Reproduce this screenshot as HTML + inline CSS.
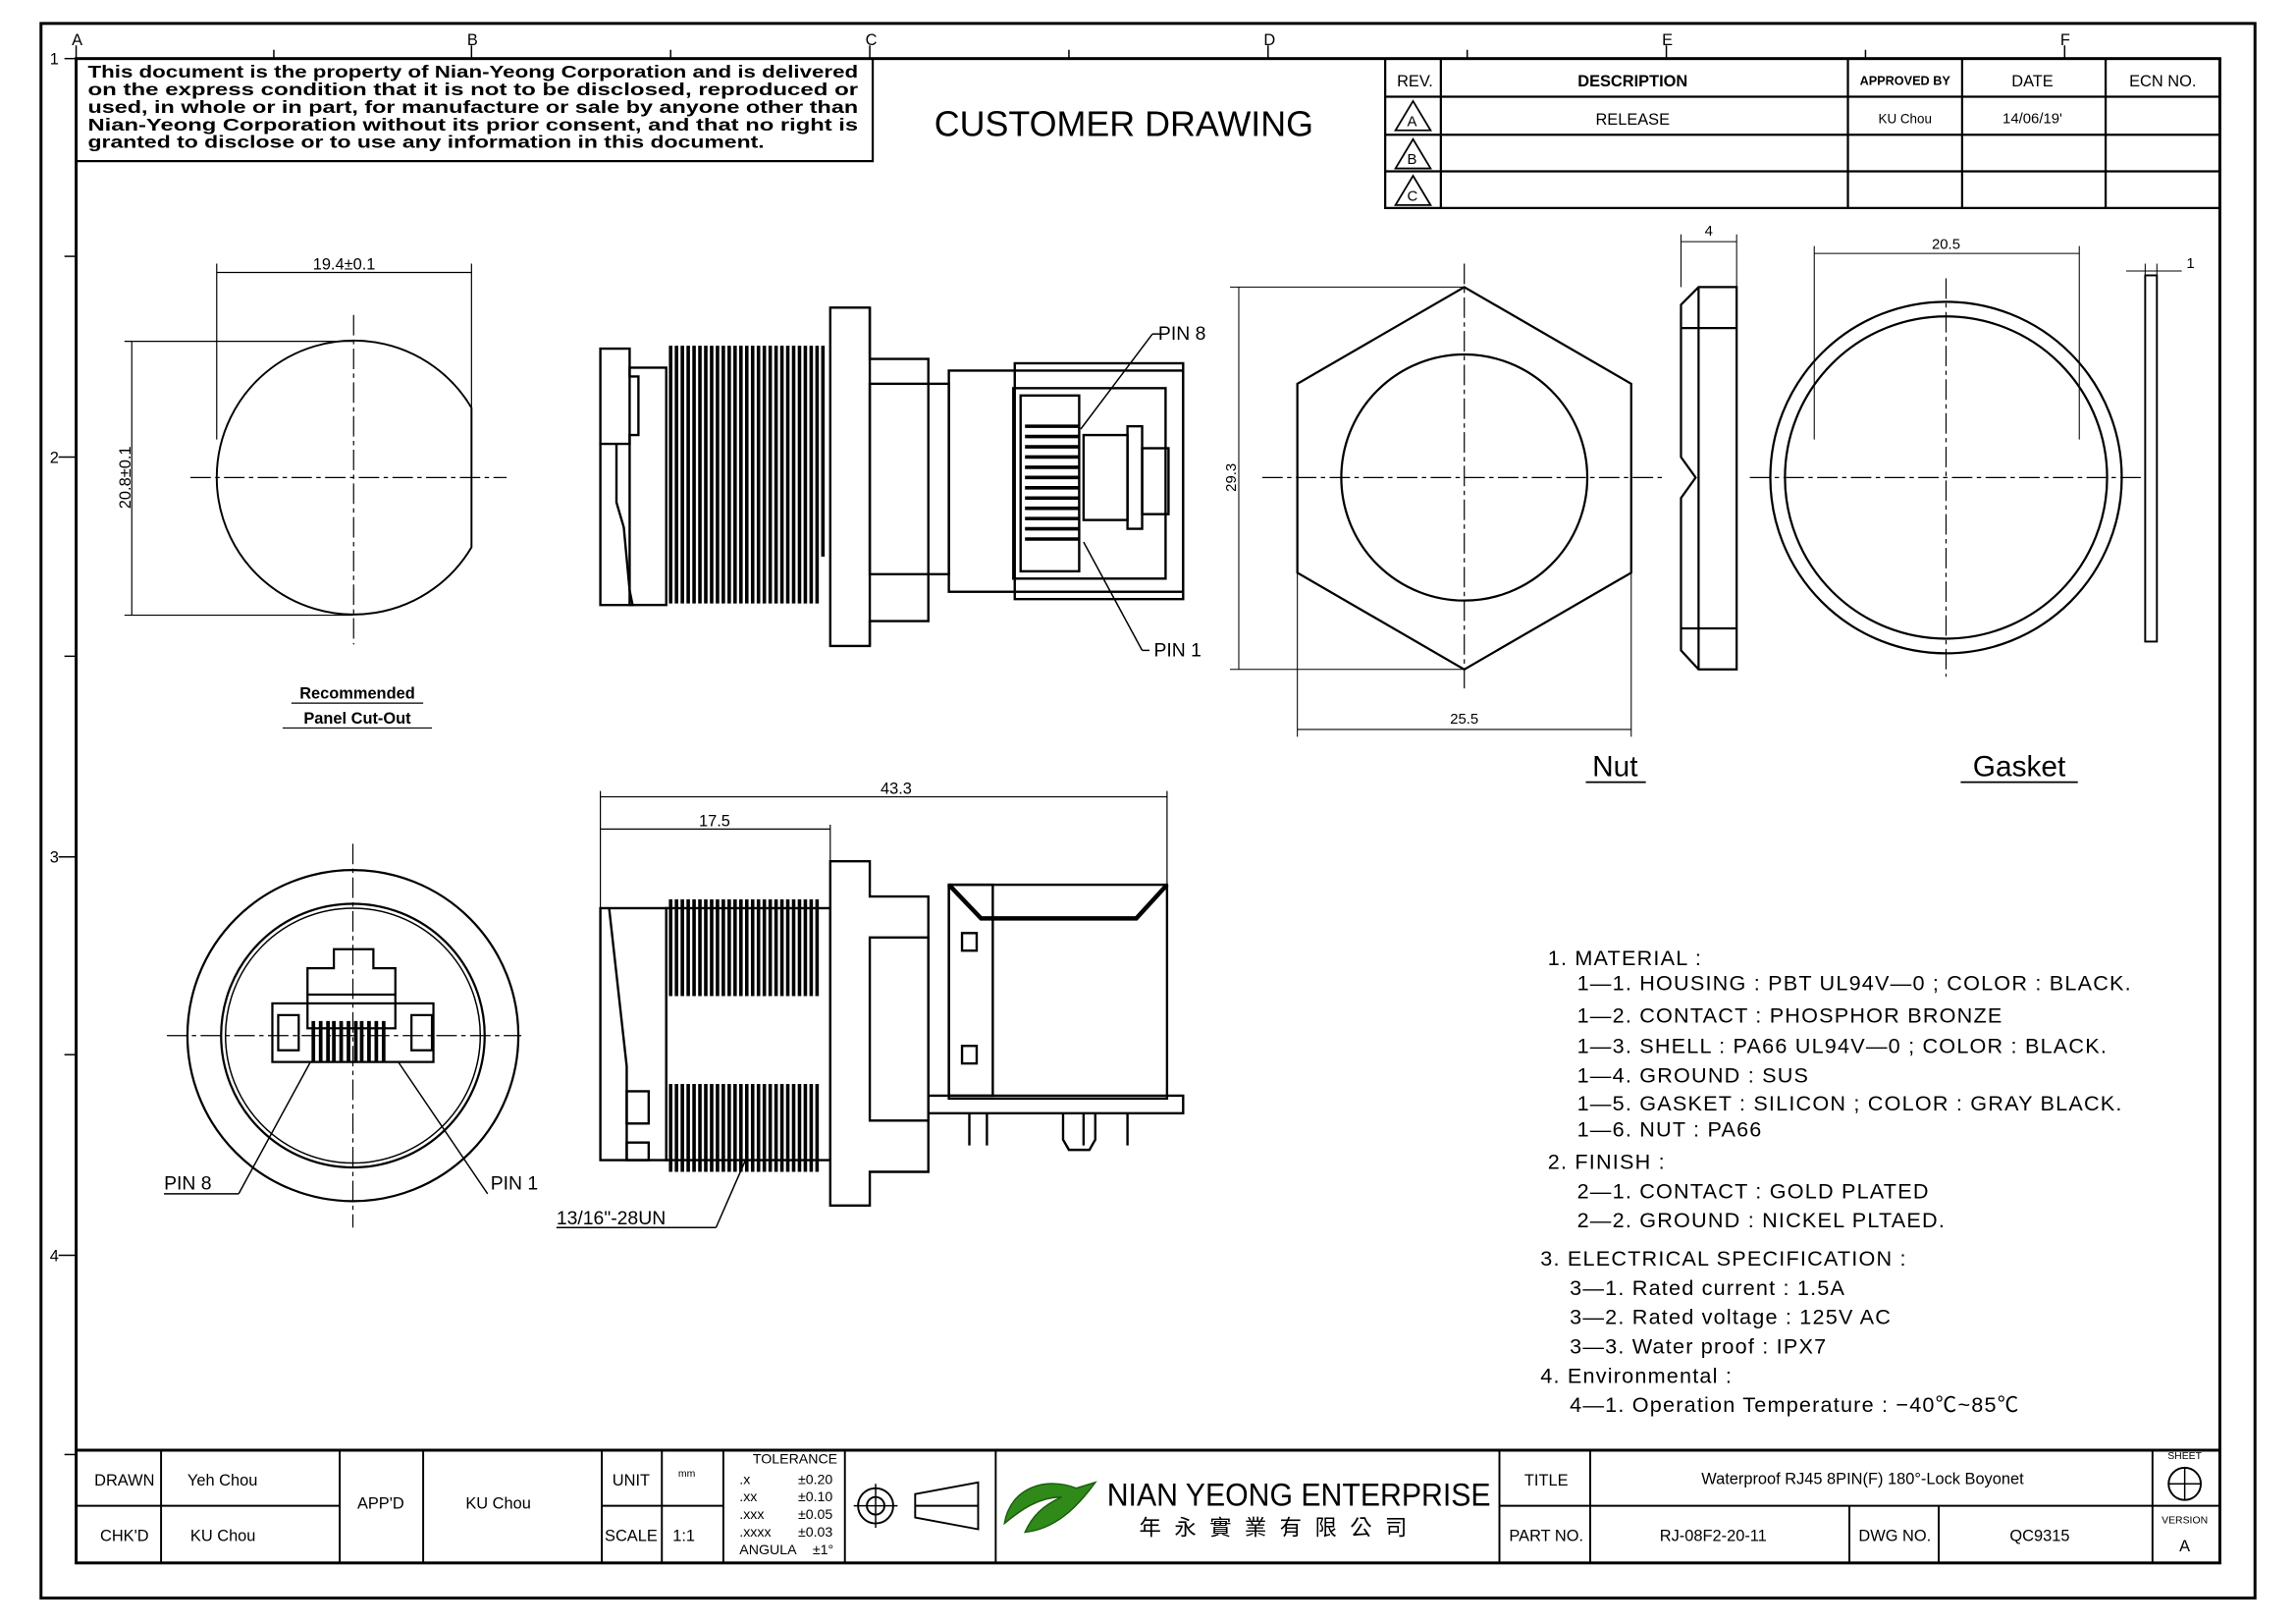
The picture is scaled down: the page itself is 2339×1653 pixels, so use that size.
<!DOCTYPE html>
<html><head><meta charset="utf-8"><style>
html,body{margin:0;padding:0;background:#fff;}
svg{display:block;}
text{font-family:"Liberation Sans","Noto Sans CJK TC",sans-serif;fill:#000;}
.n{font-family:"Liberation Sans Narrow","Liberation Sans",sans-serif;}
</style></head><body>
<svg width="2339" height="1653" viewBox="0 0 1568 1108" preserveAspectRatio="none" xmlns="http://www.w3.org/2000/svg" fill="none" stroke="#000" stroke-width="1.2">
<rect x="28" y="16" width="1512" height="1075" stroke-width="2"/>
<rect x="52" y="40" width="1464" height="1027" stroke-width="2"/>
<g stroke-width="1">
<line x1="52" y1="31" x2="52" y2="40"/><line x1="187" y1="34" x2="187" y2="40"/><line x1="322" y1="31" x2="322" y2="40"/><line x1="458" y1="34" x2="458" y2="40"/><line x1="594" y1="31" x2="594" y2="40"/><line x1="730" y1="34" x2="730" y2="40"/><line x1="866" y1="31" x2="866" y2="40"/><line x1="1002" y1="34" x2="1002" y2="40"/><line x1="1138" y1="31" x2="1138" y2="40"/><line x1="1274" y1="34" x2="1274" y2="40"/><line x1="1410" y1="31" x2="1410" y2="40"/>
<line x1="44" y1="40" x2="52" y2="40"/><line x1="44" y1="175" x2="52" y2="175"/><line x1="40" y1="312" x2="52" y2="312"/><line x1="44" y1="448" x2="52" y2="448"/><line x1="40" y1="585" x2="52" y2="585"/><line x1="44" y1="720" x2="52" y2="720"/><line x1="40" y1="857" x2="52" y2="857"/><line x1="44" y1="993" x2="52" y2="993"/>
</g>
<g stroke="none" font-size="11" class="n">
<text x="49" y="31">A</text><text x="319" y="31">B</text><text x="591" y="31">C</text><text x="863" y="31">D</text><text x="1135" y="31">E</text><text x="1407" y="31">F</text>
<text x="34" y="44">1</text><text x="34" y="316">2</text><text x="34" y="589">3</text><text x="34" y="861">4</text>
</g>
<rect x="52" y="40" width="544" height="70" stroke-width="1.5"/>
<g stroke="none" font-size="11.5" font-weight="bold" class="n">
<text x="60" y="53" textLength="526" lengthAdjust="spacingAndGlyphs">This document is the property of Nian-Yeong Corporation and is delivered</text>
<text x="60" y="65" textLength="526" lengthAdjust="spacingAndGlyphs">on  the  express condition that it is not to be disclosed, reproduced or</text>
<text x="60" y="77" textLength="526" lengthAdjust="spacingAndGlyphs">used, in whole or in part, for manufacture or sale by anyone other than</text>
<text x="60" y="89" textLength="526" lengthAdjust="spacingAndGlyphs">Nian-Yeong Corporation without  its prior consent, and that  no right  is</text>
<text x="60" y="101" textLength="462" lengthAdjust="spacingAndGlyphs">granted to disclose or to use any information in this  document.</text>
</g>
<text x="638" y="93" font-size="24" stroke="none" textLength="259" lengthAdjust="spacingAndGlyphs">CUSTOMER  DRAWING</text>
<g stroke-width="1.5">
<rect x="946" y="40" width="570" height="102"/>
<line x1="946" y1="66" x2="1516" y2="66"/><line x1="946" y1="92" x2="1516" y2="92"/><line x1="946" y1="117" x2="1516" y2="117"/>
<line x1="984" y1="40" x2="984" y2="142"/><line x1="1262" y1="40" x2="1262" y2="142"/><line x1="1340" y1="40" x2="1340" y2="142"/><line x1="1438" y1="40" x2="1438" y2="142"/>
</g>
<polygon points="965,69 953,89 977,89"/><polygon points="965,95 953,115 977,115"/><polygon points="965,120 953,140 977,140"/>
<g stroke="none" font-size="11" class="n">
<text x="954" y="59">REV.</text><text x="1115" y="59" text-anchor="middle" font-weight="bold">DESCRIPTION</text>
<text x="1301" y="58" text-anchor="middle" font-size="8.5" font-weight="bold">APPROVED BY</text>
<text x="1388" y="59" text-anchor="middle">DATE</text><text x="1477" y="59" text-anchor="middle">ECN NO.</text>
<text x="961" y="86" font-size="10">A</text><text x="961" y="112" font-size="10">B</text><text x="961" y="137" font-size="10">C</text>
<text x="1115" y="85" text-anchor="middle">RELEASE</text><text x="1301" y="84" text-anchor="middle" font-size="9">KU Chou</text><text x="1388" y="84" text-anchor="middle" font-size="10">14/06/19'</text>
</g>
<path d="M322,278.4 A93.5,93.5 0 1 0 322,373.6 Z" stroke-width="1.3"/>
<g stroke-width="0.8" stroke-dasharray="14,3,3,3">
<line x1="241.5" y1="215" x2="241.5" y2="440"/><line x1="130" y1="326" x2="346" y2="326"/></g>
<g stroke-width="0.8">
<line x1="148" y1="180" x2="148" y2="300"/><line x1="322" y1="180" x2="322" y2="278"/><line x1="148" y1="186" x2="322" y2="186"/>
<line x1="85" y1="233" x2="241" y2="233"/><line x1="85" y1="420" x2="241" y2="420"/><line x1="90" y1="233" x2="90" y2="420"/>
</g>
<g stroke="none" font-size="11" class="n">
<text x="235" y="184" text-anchor="middle">19.4±0.1</text>
<text transform="translate(89,326) rotate(-90)" text-anchor="middle">20.8±0.1</text>
<text x="244" y="477" text-anchor="middle" font-weight="bold">Recommended</text>
<text x="244" y="494" text-anchor="middle" font-weight="bold">Panel Cut-Out</text>
</g>
<line x1="199" y1="480" x2="289" y2="480" stroke-width="0.8"/><line x1="193" y1="497" x2="295" y2="497" stroke-width="0.8"/>
<g stroke-width="1.6">
<path d="M410,238 H430 V257 H436 V297 H430 V303 H410 Z"/>
<path d="M410,303 V413 H432 L430,403 L426,360 L421,343 V303"/>
<rect x="430" y="251" width="25" height="162"/>
<rect x="567" y="210" width="27" height="231"/>
<path d="M594,210 V245 H634 V424 H594 V441"/>
<rect x="594" y="262" width="54" height="130"/>
<rect x="648" y="253" width="160" height="151"/>
<rect x="693" y="248" width="115" height="161"/>
<rect x="692" y="265" width="104" height="130"/>
<rect x="697" y="270" width="40" height="120"/>
<rect x="740" y="297" width="30" height="58"/>
<rect x="770" y="291" width="10" height="70"/>
<rect x="780" y="306" width="18" height="45"/>
</g>
<g stroke-width="2.4">
<line x1="700" y1="291" x2="737" y2="291"/><line x1="700" y1="298" x2="737" y2="298"/><line x1="700" y1="305" x2="737" y2="305"/><line x1="700" y1="312" x2="737" y2="312"/><line x1="700" y1="319" x2="737" y2="319"/><line x1="700" y1="326" x2="737" y2="326"/><line x1="700" y1="333" x2="737" y2="333"/><line x1="700" y1="340" x2="737" y2="340"/><line x1="700" y1="347" x2="737" y2="347"/><line x1="700" y1="354" x2="737" y2="354"/><line x1="700" y1="361" x2="737" y2="361"/><line x1="700" y1="368" x2="737" y2="368"/>
</g>
<path stroke-width="2.4" d="M458,236V412M462,236V412M466,236V412M470,236V412M474,236V412M478,236V412M482,236V412M486,236V412M490,236V412M494,236V412M498,236V412M502,236V412M506,236V412M510,236V412M514,236V412M518,236V412M522,236V412M526,236V412M530,236V412M534,236V412M538,236V412M542,236V412M546,236V412M550,236V412M554,236V412M558,236V412M562,236V380"/>
<line x1="738" y1="293" x2="787" y2="228" stroke-width="1"/><line x1="787" y1="228" x2="792" y2="228" stroke-width="1"/>
<line x1="740" y1="370" x2="780" y2="444" stroke-width="1"/><line x1="780" y1="444" x2="785" y2="444" stroke-width="1"/>
<g stroke="none" font-size="13" class="n"><text x="791" y="232">PIN 8</text><text x="788" y="448">PIN 1</text></g>
<polygon points="1000,196 1114,262 1114,391 1000,457 886,391 886,262" stroke-width="1.5"/>
<circle cx="1000" cy="326" r="84" stroke-width="1.5"/>
<g stroke-width="0.8" stroke-dasharray="14,3,3,3"><line x1="1000" y1="180" x2="1000" y2="470"/><line x1="862" y1="326" x2="1135" y2="326"/></g>
<g stroke-width="0.7"><line x1="840" y1="196" x2="1000" y2="196"/><line x1="840" y1="457" x2="1000" y2="457"/><line x1="846" y1="196" x2="846" y2="457"/>
<line x1="886" y1="391" x2="886" y2="503"/><line x1="1114" y1="391" x2="1114" y2="503"/><line x1="886" y1="498" x2="1114" y2="498"/>
<line x1="1148" y1="160" x2="1148" y2="196"/><line x1="1186" y1="160" x2="1186" y2="196"/><line x1="1148" y1="165" x2="1186" y2="165"/>
<line x1="1239" y1="168" x2="1239" y2="300"/><line x1="1420" y1="168" x2="1420" y2="300"/><line x1="1239" y1="173" x2="1420" y2="173"/>
<line x1="1465" y1="180" x2="1465" y2="188"/><line x1="1473" y1="180" x2="1473" y2="188"/><line x1="1452" y1="185" x2="1490" y2="185"/></g>
<g stroke="none" font-size="10" fill="#444"><text x="1000" y="494" text-anchor="middle">25.5</text><text transform="translate(844,326) rotate(-90)" text-anchor="middle">29.3</text><text x="1167" y="161" text-anchor="middle">4</text><text x="1329" y="170" text-anchor="middle">20.5</text><text x="1496" y="183" text-anchor="middle">1</text></g>
<g stroke-width="1.5"><path d="M1160,196 H1186 V457 H1160 L1148,444 V340 L1158,326 L1148,312 V208 Z"/><line x1="1148" y1="224" x2="1186" y2="224"/><line x1="1148" y1="429" x2="1186" y2="429"/><line x1="1160" y1="196" x2="1160" y2="457"/></g>
<circle cx="1329" cy="326" r="120" stroke-width="1.5"/><circle cx="1329" cy="326" r="110" stroke-width="1.5"/>
<g stroke-width="0.8" stroke-dasharray="14,3,3,3"><line x1="1329" y1="190" x2="1329" y2="462"/><line x1="1195" y1="326" x2="1465" y2="326"/></g>
<rect x="1465" y="188" width="8" height="250" stroke-width="1.3"/>
<g stroke="none" font-size="20" class="n"><text x="1103" y="530" text-anchor="middle">Nut</text><text x="1379" y="530" text-anchor="middle">Gasket</text></g>
<line x1="1083" y1="534" x2="1124" y2="534" stroke-width="1.2"/><line x1="1339" y1="534" x2="1419" y2="534" stroke-width="1.2"/>
<circle cx="241" cy="707" r="113" stroke-width="1.5"/>
<circle cx="241" cy="707" r="90" stroke-width="1.5"/><circle cx="241" cy="707" r="87" stroke-width="1"/>
<g stroke-width="0.8" stroke-dasharray="14,3,3,3"><line x1="241" y1="576" x2="241" y2="838"/><line x1="114" y1="707" x2="356" y2="707"/></g>
<g stroke-width="1.5">
<path d="M210,679 V661 H228 V648 H255 V661 H270 V679"/>
<rect x="186" y="685" width="110" height="40"/>
<rect x="210" y="679" width="60" height="23"/>
<rect x="190" y="693" width="14" height="24"/><rect x="281" y="693" width="14" height="24"/>
</g>
<path d="M214,697V725M219,697V725M224,697V725M228,697V725M233,697V725M238,697V725M243,697V725M247,697V725M252,697V725M257,697V725M262,697V725" stroke-width="2.5"/>
<line x1="212" y1="725" x2="163" y2="815" stroke-width="1"/><line x1="112" y1="815" x2="163" y2="815" stroke-width="1"/>
<line x1="272" y1="725" x2="333" y2="815" stroke-width="1"/>
<g stroke="none" font-size="13" class="n"><text x="112" y="812">PIN 8</text><text x="335" y="812">PIN 1</text></g>
<g stroke-width="0.8"><line x1="410" y1="544" x2="797" y2="544"/><line x1="410" y1="566" x2="567" y2="566"/><line x1="410" y1="540" x2="410" y2="625"/><line x1="797" y1="540" x2="797" y2="608"/><line x1="567" y1="563" x2="567" y2="588"/></g>
<g stroke="none" font-size="11" class="n"><text x="612" y="542" text-anchor="middle">43.3</text><text x="488" y="564" text-anchor="middle">17.5</text><text x="380" y="836" font-size="13">13/16"-28UN</text></g>
<line x1="380" y1="838" x2="489" y2="838" stroke-width="1"/><line x1="489" y1="838" x2="510" y2="790" stroke-width="1"/>
<g stroke-width="1.6">
<rect x="410" y="620" width="45" height="172"/><path d="M416,620 L428,728 V792"/>
<rect x="428" y="745" width="15" height="22"/><rect x="428" y="780" width="15" height="12"/>
<rect x="455" y="620" width="112" height="172"/>
<path d="M567,588 H594 V612 H634 V800 H594 V823 H567 Z"/>
<rect x="594" y="640" width="40" height="125"/>
<rect x="648" y="604" width="149" height="146"/>
<rect x="648" y="604" width="30" height="144"/>
<rect x="657" y="637" width="10" height="12"/><rect x="657" y="714" width="10" height="12"/>
<rect x="634" y="748" width="174" height="12"/>
<path d="M662,760V782M674,760V782M740,760V782M770,760V782"/>
<path d="M726,760 V778 L730,785 H744 L748,778 V760"/>
</g>
<path d="M648,604 L670,627 H776 L797,604" stroke-width="3"/>
<path d="M458,614V680M462,614V680M466,614V680M470,614V680M474,614V680M478,614V680M482,614V680M486,614V680M490,614V680M494,614V680M498,614V680M502,614V680M506,614V680M510,614V680M514,614V680M518,614V680M522,614V680M526,614V680M530,614V680M534,614V680M538,614V680M542,614V680M546,614V680M550,614V680M554,614V680M558,614V680M458,740V800M462,740V800M466,740V800M470,740V800M474,740V800M478,740V800M482,740V800M486,740V800M490,740V800M494,740V800M498,740V800M502,740V800M506,740V800M510,740V800M514,740V800M518,740V800M522,740V800M526,740V800M530,740V800M534,740V800M538,740V800M542,740V800M546,740V800M550,740V800M554,740V800M558,740V800" stroke-width="2.4"/>
<g stroke="none" font-size="14.5" class="n" letter-spacing="0.8">
<text x="1057" y="659">1.  MATERIAL  :</text>
<text x="1077" y="676">1—1.  HOUSING  :  PBT  UL94V—0  ;  COLOR  :  BLACK.</text>
<text x="1077" y="698">1—2.  CONTACT  :  PHOSPHOR  BRONZE</text>
<text x="1077" y="719">1—3.  SHELL  :  PA66  UL94V—0  ;  COLOR  :  BLACK.</text>
<text x="1077" y="739">1—4.  GROUND  :  SUS</text>
<text x="1077" y="758">1—5.  GASKET  :  SILICON  ;  COLOR  :  GRAY  BLACK.</text>
<text x="1077" y="776">1—6.  NUT  :  PA66</text>
<text x="1057" y="798">2.  FINISH  :</text>
<text x="1077" y="818">2—1.  CONTACT  :  GOLD  PLATED</text>
<text x="1077" y="838">2—2.  GROUND  :  NICKEL  PLTAED.</text>
<text x="1052" y="864">3.  ELECTRICAL  SPECIFICATION  :</text>
<text x="1072" y="884">3—1.  Rated  current  :  1.5A</text>
<text x="1072" y="904">3—2.  Rated  voltage  :  125V  AC</text>
<text x="1072" y="924">3—3.  Water  proof  :  IPX7</text>
<text x="1052" y="944">4.  Environmental  :</text>
<text x="1072" y="964">4—1.  Operation  Temperature  :  −40℃~85℃</text>
</g>
<line x1="52" y1="990" x2="1516" y2="990" stroke-width="2"/>
<g stroke-width="1.3">
<line x1="52" y1="1028" x2="232" y2="1028"/><line x1="411" y1="1028" x2="494" y2="1028"/><line x1="1024" y1="1028" x2="1516" y2="1028"/>
<path d="M110,990V1067M232,990V1067M289,990V1067M411,990V1067M452,990V1067M494,990V1067M577,990V1067M680,990V1067M1024,990V1067M1086,990V1067M1470,990V1067M1263,1028V1067M1324,1028V1067"/>
</g>
<circle cx="598" cy="1028" r="12" stroke-width="1.3"/><circle cx="598" cy="1028" r="6" stroke-width="1.3"/><path d="M583,1028H613M598,1013V1043" stroke-width="1"/>
<path d="M625,1020 L668,1012 V1044 L625,1036 Z M625,1028 H668" stroke-width="1.3"/>
<circle cx="1492" cy="1013" r="11" stroke-width="1.3"/><path d="M1481,1013H1503M1492,1002V1024" stroke-width="1"/>
<path d="M686,1040 C690,1015 715,1008 735,1016 L748,1012 C735,1030 720,1044 700,1046 C705,1035 712,1028 725,1022 C710,1022 698,1030 686,1040 Z" fill="#2f8a1a" stroke="#1d5c0e" stroke-width="1"/>
<g stroke="none" class="n">
<g font-size="11"><text x="85" y="1014" text-anchor="middle">DRAWN</text><text x="128" y="1014">Yeh Chou</text><text x="85" y="1052" text-anchor="middle">CHK'D</text><text x="130" y="1052">KU Chou</text>
<text x="260" y="1030" text-anchor="middle">APP'D</text><text x="318" y="1030">KU Chou</text>
<text x="431" y="1014" text-anchor="middle">UNIT</text><text x="431" y="1052" text-anchor="middle">SCALE</text><text x="467" y="1052" text-anchor="middle">1:1</text>
<text x="1056" y="1014" text-anchor="middle">TITLE</text><text x="1056" y="1052" text-anchor="middle">PART NO.</text>
<text x="1272" y="1013" text-anchor="middle">Waterproof  RJ45  8PIN(F)  180°-Lock  Boyonet</text>
<text x="1170" y="1052" text-anchor="middle">RJ-08F2-20-11</text><text x="1294" y="1052" text-anchor="middle">DWG NO.</text><text x="1393" y="1052" text-anchor="middle">QC9315</text>
<text x="1492" y="1059" text-anchor="middle">A</text></g>
<g font-size="7"><text x="469" y="1008" text-anchor="middle">mm</text><text x="1492" y="996" text-anchor="middle">SHEET</text><text x="1492" y="1040" text-anchor="middle">VERSION</text></g>
<g font-size="9.5"><text x="543" y="999" text-anchor="middle">TOLERANCE</text>
<text x="505" y="1013">.x</text><text x="545" y="1013">±0.20</text><text x="505" y="1025">.xx</text><text x="545" y="1025">±0.10</text>
<text x="505" y="1037">.xxx</text><text x="545" y="1037">±0.05</text><text x="505" y="1049">.xxxx</text><text x="545" y="1049">±0.03</text>
<text x="505" y="1061">ANGULA</text><text x="555" y="1061">±1°</text></g>
<text x="756" y="1028" font-size="22" textLength="262" lengthAdjust="spacingAndGlyphs">NIAN YEONG ENTERPRISE</text>
<text x="778" y="1048" font-size="15" letter-spacing="9">年永實業有限公司</text>
</g>
</svg>
</body></html>
